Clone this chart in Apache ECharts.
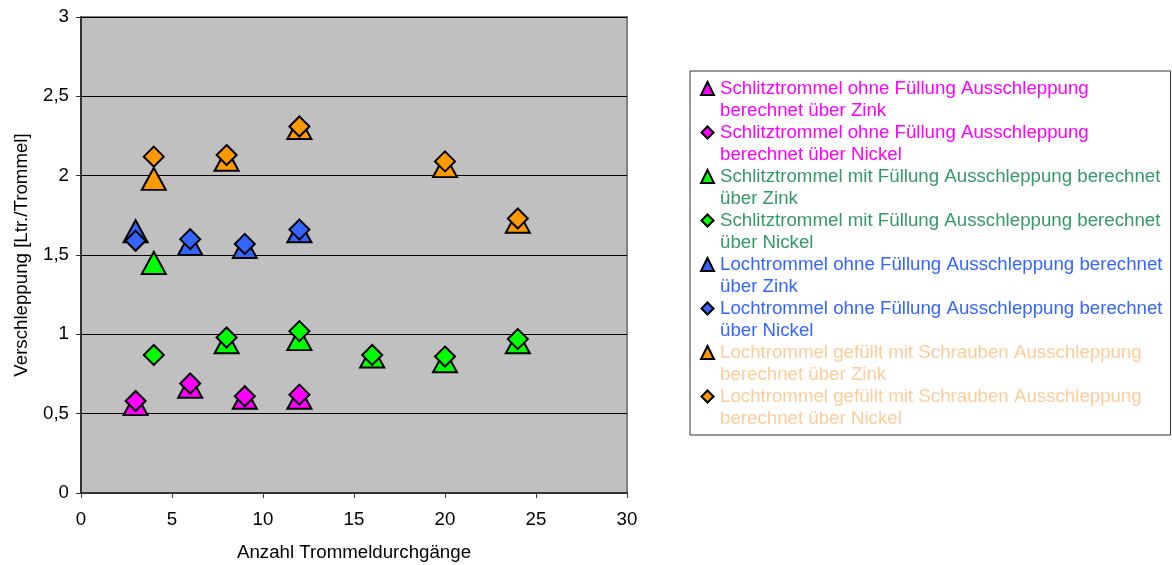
<!DOCTYPE html>
<html>
<head>
<meta charset="utf-8">
<script src="https://cdn.jsdelivr.net/npm/echarts@6/dist/echarts.min.js"></script>
<style>html,body{margin:0;padding:0;background:#fff;}#c{width:1172px;height:565px;}</style>
</head>
<body>
<div id="c"></div>
<script>
const seriesNames = [
  "Schlitztrommel ohne Füllung Ausschleppung\nberechnet über Zink",
  "Schlitztrommel ohne Füllung Ausschleppung\nberechnet über Nickel",
  "Schlitztrommel mit Füllung Ausschleppung berechnet\nüber Zink",
  "Schlitztrommel mit Füllung Ausschleppung berechnet\nüber Nickel",
  "Lochtrommel ohne Füllung Ausschleppung berechnet\nüber Zink",
  "Lochtrommel ohne Füllung Ausschleppung berechnet\nüber Nickel",
  "Lochtrommel gefüllt mit Schrauben Ausschleppung\nberechnet über Zink",
  "Lochtrommel gefüllt mit Schrauben Ausschleppung\nberechnet über Nickel"
];
// [x, y] pairs per series
const schlitzOhneZink   = [[3, 0.56], [6, 0.67], [9, 0.60], [12, 0.60]];
const schlitzOhneNickel = [[3, 0.58], [6, 0.69], [9, 0.61], [12, 0.62]];
const schlitzMitZink    = [[4, 1.45], [8, 0.95], [12, 0.97], [16, 0.86], [20, 0.83], [24, 0.95]];
const schlitzMitNickel  = [[4, 0.87], [8, 0.98], [12, 1.02], [16, 0.87], [20, 0.86], [24, 0.97]];
const lochOhneZink      = [[3, 1.65], [6, 1.57], [9, 1.55], [12, 1.65]];
const lochOhneNickel    = [[3, 1.59], [6, 1.60], [9, 1.57], [12, 1.66]];
const lochSchraubZink   = [[4, 1.98], [8, 2.10], [12, 2.30], [20, 2.06], [24, 1.71]];
const lochSchraubNickel = [[4, 2.12], [8, 2.13], [12, 2.31], [20, 2.09], [24, 1.73]];

const seriesData = [schlitzOhneZink, schlitzOhneNickel, schlitzMitZink, schlitzMitNickel,
                    lochOhneZink, lochOhneNickel, lochSchraubZink, lochSchraubNickel];
const markerColors = ['#FF00FF', '#FF00FF', '#00FF00', '#00FF00', '#3366FF', '#3366FF', '#FF9900', '#FF9900'];
const textColors   = ['#FF00FF', '#FF00FF', '#339966', '#339966', '#3366FF', '#3366FF', '#FFCC99', '#FFCC99'];
const symbols      = ['triangle', 'diamond', 'triangle', 'diamond', 'triangle', 'diamond', 'triangle', 'diamond'];

const xTicks = { min: 0, max: 30, interval: 5 };
const yTicks = { min: 0, max: 3, interval: 0.5 };

const FONT = 'Liberation Sans, Arial, sans-serif';
const FS = 18.7;

// legend icons: shape drawn in the top part of a 15x44 box (aligned with first text line)
const legendIcons = {
  triangle: 'path://M0,0 M15,44 M7.5,4 L14,17 L1,17 Z',
  diamond:  'path://M0,0 M15,44 M7.5,4.5 L13.5,10.5 L7.5,16.5 L1.5,10.5 Z'
};

const series = seriesData.map((d, i) => ({
  name: seriesNames[i],
  type: 'scatter',
  data: d,
  symbol: symbols[i],
  symbolSize: symbols[i] === 'triangle' ? [24, 22] : [20, 20],
  itemStyle: { color: markerColors[i], borderColor: '#000', borderWidth: 2, opacity: 1 },
  emphasis: { disabled: true },
  z: 2 + i
}));

const chart = echarts.init(document.getElementById('c'), null, { renderer: 'canvas' });
chart.setOption({
  animation: false,
  backgroundColor: '#fff',
  textStyle: { fontFamily: FONT },
  grid: {
    left: 81, right: 545, top: 17, bottom: 72,
    outerBoundsMode: 'none', containLabel: false,
    show: true, backgroundColor: '#C0C0C0', borderColor: '#808080', borderWidth: 2
  },
  xAxis: {
    type: 'value', min: xTicks.min, max: xTicks.max, interval: xTicks.interval,
    name: 'Anzahl Trommeldurchgänge', nameLocation: 'middle', nameGap: 50,
    nameTextStyle: { fontSize: FS, color: '#000', fontFamily: FONT },
    axisLine: { lineStyle: { color: '#333', width: 2 } },
    axisTick: { show: true, inside: false, length: 5, lineStyle: { color: '#333' } },
    axisLabel: { fontSize: FS, color: '#000', margin: 17, fontFamily: FONT },
    splitLine: { show: false }
  },
  yAxis: {
    type: 'value', min: yTicks.min, max: yTicks.max, interval: yTicks.interval,
    name: 'Verschleppung [Ltr./Trommel]', nameLocation: 'middle', nameGap: 50,
    nameTextStyle: { fontSize: FS, color: '#000', fontFamily: FONT },
    axisLine: { show: true, lineStyle: { color: '#333', width: 2 } },
    axisTick: { show: true, inside: false, length: 5, lineStyle: { color: '#333' } },
    axisLabel: { fontSize: FS, color: '#000', margin: 12, fontFamily: FONT,
      formatter: v => String(v).replace('.', ',') },
    splitLine: { show: true, lineStyle: { color: '#000', width: 1 } }
  },
  legend: {
    orient: 'vertical', left: 690, top: 71,
    padding: [6, 8, 4, 9],
    backgroundColor: '#fff', borderColor: '#333', borderWidth: 1,
    itemWidth: 15, itemHeight: 44, itemGap: -2,
    symbolKeepAspect: false,
    selectedMode: false,
    data: seriesNames.map((n, i) => ({
      name: n,
      icon: legendIcons[symbols[i]],
      itemStyle: { color: markerColors[i], borderColor: '#000', borderWidth: 2 },
      textStyle: { color: textColors[i], fontSize: FS, lineHeight: 22, fontFamily: FONT }
    }))
  },
  series: series
});
</script>
</body>
</html>
